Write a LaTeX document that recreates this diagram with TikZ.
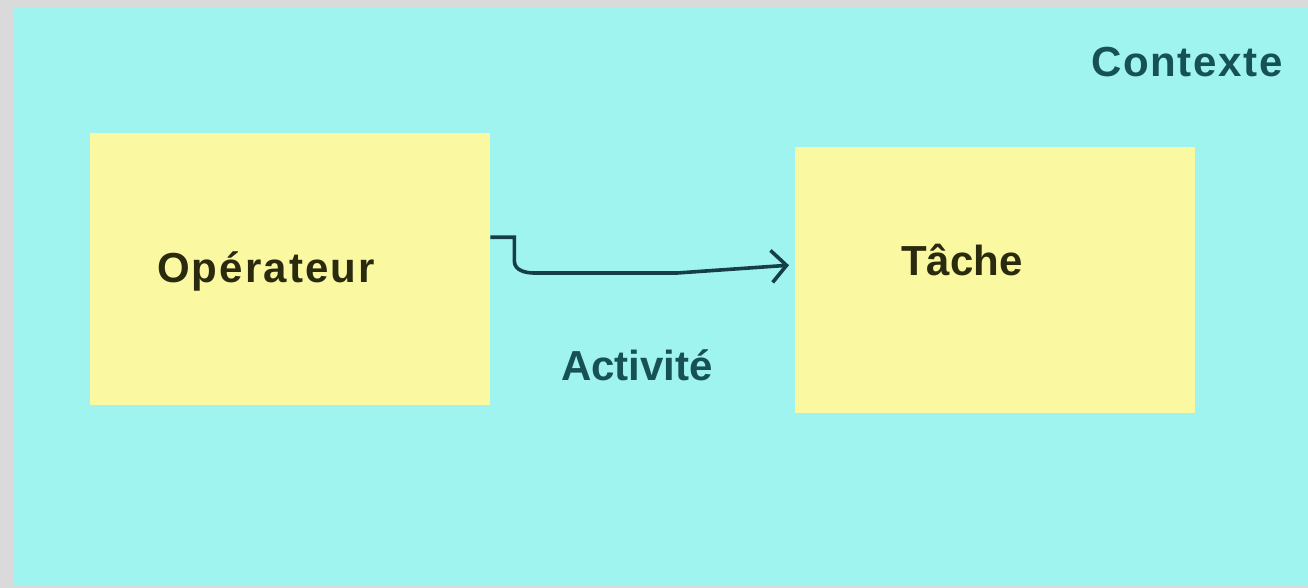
\documentclass[tikz,border=0pt]{standalone}
\usepackage{fontspec}
\setmainfont{Liberation Sans}
\usetikzlibrary{arrows.meta}
\definecolor{bggrey}{RGB}{218,218,218}
\definecolor{ctxcyan}{RGB}{160,244,240}
\definecolor{boxyellow}{RGB}{250,248,160}
\definecolor{tealtext}{RGB}{22,82,84}
\definecolor{boxtext}{RGB}{42,42,14}
\definecolor{arrowcol}{RGB}{22,62,70}
\tikzset{
  boxnode/.style={fill=boxyellow, draw=none, inner sep=0pt, anchor=north west},
  boxlabel/.style={font=\fontsize{42}{50}\selectfont\bfseries, text=boxtext, anchor=base, inner sep=0pt},
  ctxlabel/.style={font=\fontsize{42}{50}\selectfont\bfseries, text=tealtext, anchor=base, inner sep=0pt},
  flow/.style={draw=arrowcol, line width=3.6pt, line join=miter,
    -{Straight Barb[length=15pt,width=32pt,line width=3.6pt]}}
}
\begin{document}
\begin{tikzpicture}[x=1pt,y=-1pt]
  \useasboundingbox (0,0) rectangle (1308,588);
  \fill[bggrey] (0,0) rectangle (1308,588);
  \fill[ctxcyan] (13,7) rectangle (1308,585);
  \node[ctxlabel] (ctx) at (1187,77) {\addfontfeature{LetterSpace=4}Contexte};
  \node[boxnode, minimum width=400pt, minimum height=272pt] (op) at (90,133) {};
  \node[boxnode, minimum width=400pt, minimum height=266pt] (ta) at (795,147) {};
  \node[boxlabel] (opt) at (266,282) {\addfontfeature{LetterSpace=5}Opérateur};
  \node[boxlabel] (tat) at (962,275) {Tâche};
  \node[ctxlabel] (act) at (637,380) {Activité};
  \coordinate (s) at ([yshift=32pt]op.east);
  \coordinate (e) at ([xshift=-6pt,yshift=15pt]ta.west);
  \draw[flow] (s) -- ++(24,0) -- ++(0,24) to[out=-90,in=180] (534,273) -- (677,273) -- (e);
\end{tikzpicture}
\end{document}
